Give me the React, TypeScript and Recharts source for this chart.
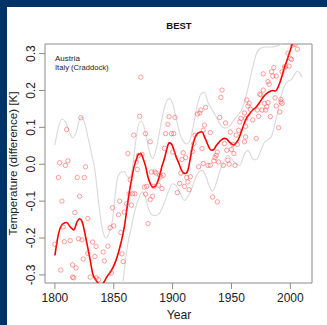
import { ComposedChart, Line, Scatter, XAxis, YAxis, ReferenceArea } from "recharts";

// Axis ranges (R style: data range 1800–2010 plus 4% padding)
const X_DOMAIN: [number, number] = [1791.6, 2018.4];
const Y_DOMAIN: [number, number] = [-0.322, 0.326];
const xTicks = [1800, 1850, 1900, 1950, 2000];
const yTicks = [-0.3, -0.2, -0.1, 0.0, 0.1, 0.2, 0.3];

// smoothed fit (red)
const trendLine: [number, number][] = [
  [1800, -0.247], [1803, -0.19], [1807, -0.161], [1810, -0.158], [1813, -0.17],
  [1816, -0.178], [1819, -0.155], [1821, -0.148], [1823, -0.155], [1825, -0.18],
  [1827, -0.211], [1830, -0.26], [1832, -0.295], [1835, -0.315], [1838, -0.325],
  [1840, -0.326], [1842, -0.318], [1844, -0.306], [1848, -0.288], [1852, -0.26],
  [1856, -0.215], [1859, -0.17], [1861, -0.125], [1863, -0.08], [1865, -0.043],
  [1867, -0.01], [1869, 0.011], [1871, 0.027], [1873, 0.029], [1875, 0.015],
  [1877, -0.005], [1879, -0.034], [1881, -0.052], [1883, -0.062], [1885, -0.06],
  [1887, -0.05], [1889, -0.03], [1891, -0.005], [1893, 0.015], [1895, 0.04],
  [1897, 0.058], [1899, 0.055], [1901, 0.04], [1903, 0.02], [1905, 0.005],
  [1907, -0.012], [1909, -0.023], [1911, -0.025], [1913, -0.016], [1915, 0.015],
  [1917, 0.05], [1919, 0.072], [1921, 0.083], [1923, 0.087], [1925, 0.088],
  [1927, 0.075], [1929, 0.06], [1931, 0.045], [1933, 0.038], [1935, 0.04],
  [1937, 0.05], [1939, 0.058], [1941, 0.065], [1944, 0.07], [1946, 0.068],
  [1948, 0.061], [1950, 0.055], [1952, 0.052], [1954, 0.058], [1956, 0.068],
  [1958, 0.085], [1960, 0.103], [1962, 0.12], [1965, 0.135], [1968, 0.147],
  [1971, 0.155], [1974, 0.168], [1977, 0.182], [1980, 0.192], [1983, 0.198],
  [1985, 0.2], [1987, 0.198], [1989, 0.205], [1991, 0.22], [1993, 0.24],
  [1995, 0.262], [1997, 0.28], [1999, 0.3], [2001, 0.32], [2003, 0.34],
  [2005, 0.36], [2007, 0.38], [2010, 0.41],
];

// confidence band, upper edge (grey)
const upperBand: [number, number][] = [
  [1800, 0.052], [1803, 0.1], [1806, 0.122], [1809, 0.115], [1812, 0.09],
  [1815, 0.072], [1818, 0.085], [1821, 0.122], [1823, 0.127], [1825, 0.115],
  [1828, 0.075], [1831, 0.03], [1834, -0.016], [1837, -0.1], [1840, -0.17],
  [1843, -0.2], [1845, -0.195], [1847, -0.175], [1849, -0.15], [1851, -0.09],
  [1853, -0.04], [1856, -0.022], [1859, -0.02], [1862, -0.035], [1864, -0.035],
  [1866, -0.005], [1869, 0.07], [1872, 0.115], [1874, 0.115], [1877, 0.085],
  [1880, 0.038], [1883, 0.015], [1886, 0.04], [1889, 0.09], [1892, 0.14],
  [1895, 0.172], [1897, 0.178], [1900, 0.165], [1903, 0.125], [1906, 0.085],
  [1909, 0.062], [1912, 0.055], [1915, 0.068], [1918, 0.11], [1921, 0.16],
  [1924, 0.19], [1927, 0.195], [1930, 0.168], [1933, 0.15], [1936, 0.135],
  [1940, 0.11], [1944, 0.098], [1948, 0.102], [1952, 0.12], [1956, 0.135],
  [1959, 0.15], [1962, 0.18], [1965, 0.22], [1968, 0.262], [1971, 0.298],
  [1974, 0.313], [1978, 0.318], [1984, 0.318], [1990, 0.322], [1995, 0.33],
  [2000, 0.36], [2005, 0.4], [2010, 0.44],
];

// confidence band, lower edge (grey) - below the frame before ~1858
const lowerBand: [number, number][] = [
  [1800, -0.55], [1810, -0.46], [1820, -0.45], [1830, -0.58], [1840, -0.62],
  [1848, -0.55], [1853, -0.45], [1856, -0.37], [1858, -0.315], [1860, -0.26],
  [1862, -0.215], [1865, -0.17], [1868, -0.125], [1871, -0.095], [1874, -0.075],
  [1877, -0.09], [1880, -0.125], [1883, -0.138], [1886, -0.139], [1889, -0.132],
  [1892, -0.112], [1896, -0.078], [1900, -0.053], [1903, -0.058], [1906, -0.075],
  [1910, -0.098], [1913, -0.088], [1916, -0.068], [1919, -0.04], [1922, -0.022],
  [1925, -0.016], [1928, -0.03], [1931, -0.058], [1934, -0.073], [1937, -0.052],
  [1940, -0.02], [1943, 0.004], [1947, 0.024], [1950, 0.015], [1953, 0.004],
  [1957, -0.003], [1961, 0.028], [1964, 0.037], [1968, 0.015], [1971, 0.012],
  [1975, 0.038], [1978, 0.06], [1981, 0.066], [1984, 0.076], [1986, 0.098],
  [1989, 0.138], [1992, 0.182], [1995, 0.213], [1998, 0.225], [2001, 0.23],
  [2004, 0.245], [2006, 0.252], [2008, 0.247], [2010, 0.236],
];

// yearly anomalies (open circles)
const observations: [number, number][] = [
  [1800, -0.217], [1803, -0.036], [1804, 0.004], [1805, -0.287], [1806, -0.1],
  [1807, -0.17], [1808, -0.21], [1809, -0.003], [1810, 0.094], [1811, 0.009],
  [1813, -0.207], [1815, -0.273], [1815, -0.306], [1816, -0.308], [1817, -0.131],
  [1818, -0.281], [1819, -0.036], [1820, -0.202], [1821, -0.087], [1822, 0.126],
  [1823, -0.205], [1824, -0.257], [1825, -0.036], [1826, -0.007], [1828, -0.242],
  [1828, -0.147], [1830, -0.306], [1832, -0.211], [1834, -0.25], [1835, -0.223],
  [1835, -0.308], [1837, -0.313], [1841, -0.238], [1842, -0.262], [1845, -0.222],
  [1847, -0.172], [1848, -0.295], [1849, -0.118], [1850, -0.167], [1854, -0.137],
  [1855, -0.1], [1856, -0.185], [1857, -0.243], [1858, -0.264], [1859, -0.13],
  [1861, -0.107], [1862, 0.029], [1863, -0.08], [1864, -0.042], [1865, -0.111],
  [1866, -0.08], [1867, 0.079], [1868, -0.08], [1869, 0.006], [1870, -0.014],
  [1871, 0.024], [1872, 0.13], [1873, 0.236], [1874, 0.027], [1876, -0.062],
  [1877, 0.083], [1877, -0.081], [1878, -0.06], [1879, -0.161], [1881, 0.061],
  [1881, -0.096], [1882, -0.021], [1883, -0.087], [1884, -0.06], [1885, -0.021],
  [1886, -0.024], [1888, -0.057], [1889, -0.03], [1890, -0.034], [1891, -0.066],
  [1892, -0.03], [1893, 0.043], [1894, 0.083], [1896, 0.108], [1897, 0.129],
  [1899, 0.083], [1900, 0.033], [1901, 0.083], [1902, 0.127], [1904, -0.077],
  [1906, -0.052], [1907, -0.024], [1908, 0.013], [1909, 0.031], [1910, -0.06],
  [1911, 0.018], [1912, -0.036], [1913, -0.048], [1914, -0.069], [1915, -0.034],
  [1917, 0.035], [1918, 0.056], [1919, 0.079], [1921, 0.136], [1922, -0.007],
  [1923, 0.139], [1924, 0.147], [1925, 0.043], [1926, 0.092], [1926, 0.002],
  [1927, 0.106], [1928, 0.154], [1930, -0.003], [1932, 0.086], [1932, -0.003],
  [1934, -0.089], [1935, 0.009], [1936, 0.018], [1937, 0.024], [1938, 0.033],
  [1938, -0.102], [1939, 0.006], [1940, 0.127], [1941, 0.181], [1942, 0.201],
  [1943, -0.003], [1944, 0.056], [1945, 0.112], [1946, 0.038], [1947, 0.011],
  [1948, 0.0], [1949, 0.087], [1950, 0.04], [1951, 0.054], [1952, 0.029],
  [1953, -0.003], [1954, 0.079], [1955, 0.054], [1956, 0.092], [1957, 0.115],
  [1958, 0.124], [1961, 0.061], [1961, 0.139], [1962, 0.124], [1962, 0.103],
  [1962, 0.074], [1963, 0.174], [1964, 0.158], [1965, 0.165], [1966, 0.149],
  [1968, 0.12], [1971, 0.07], [1972, 0.147], [1973, 0.13], [1974, 0.19],
  [1975, 0.188], [1976, 0.147], [1977, 0.245], [1977, 0.201], [1978, 0.165],
  [1979, 0.147], [1980, 0.156], [1981, 0.224], [1981, 0.167], [1982, 0.217],
  [1983, 0.129], [1984, 0.251], [1985, 0.239], [1986, 0.262], [1987, 0.18],
  [1988, 0.158], [1988, 0.239], [1990, 0.099], [1991, 0.142], [1992, 0.169],
  [1992, 0.176], [1993, 0.165], [1993, 0.251], [1995, 0.264], [1996, 0.264],
  [1998, 0.301], [1999, 0.266], [2000, 0.287], [2001, 0.284], [2002, 0.323],
  [2004, 0.325], [2006, 0.312],
];

const toPoints = (pairs: [number, number][]) => pairs.map(([x, y]) => ({ x, y }));

const FONT = "'Liberation Sans', Arial, Helvetica, sans-serif";
const NAVY = "#023366";
const FRAME = "#8c8c8c";

function YTick(props: any) {
  const { x, y, payload } = props;
  return (
    <text
      x={x}
      y={y}
      transform={`rotate(-90, ${x}, ${y})`}
      textAnchor="middle"
      fontSize={12}
      fontFamily={FONT}
      fill="#222"
    >
      {Number(payload.value).toFixed(1)}
    </text>
  );
}

function XTick(props: any) {
  const { x, y, payload } = props;
  return (
    <text x={x} y={y} dy={9.5} textAnchor="middle" fontSize={12} fontFamily={FONT} fill="#222">
      {payload.value}
    </text>
  );
}

function OpenCircle(props: any) {
  const { cx, cy } = props;
  if (cx == null || cy == null) return null;
  return <circle cx={cx} cy={cy} r={2.2} fill="none" stroke="#ff4d4d" strokeOpacity={0.6} strokeWidth={0.9} />;
}

export default function App() {
  return (
    <div style={{ position: "absolute", left: 0, top: 0, width: 327, height: 325, background: NAVY }}>
      <div style={{ position: "absolute", left: 7, top: 7, width: 320, height: 318, background: "#fff" }} />
      <div style={{ position: "absolute", left: 0, top: 0 }}>
        <ComposedChart width={327} height={325} margin={{ top: 44, right: 15, bottom: 12, left: 15 }}>
          <XAxis
            type="number"
            dataKey="x"
            domain={X_DOMAIN}
            ticks={xTicks}
            allowDataOverflow
            axisLine={false}
            tickLine={{ stroke: FRAME }}
            tickSize={6}
            tickMargin={3}
            height={30}
            tick={<XTick />}
          />
          <YAxis
            type="number"
            dataKey="y"
            domain={Y_DOMAIN}
            ticks={yTicks}
            allowDataOverflow
            axisLine={false}
            tickLine={{ stroke: FRAME }}
            tickSize={6}
            tickMargin={4}
            width={30}
            tick={<YTick />}
          />
          <Line
            data={toPoints(upperBand)}
            dataKey="y"
            type="monotone"
            stroke="#d9d9d9"
            strokeWidth={1.1}
            dot={false}
            activeDot={false}
            isAnimationActive={false}
          />
          <Line
            data={toPoints(lowerBand)}
            dataKey="y"
            type="monotone"
            stroke="#d9d9d9"
            strokeWidth={1.1}
            dot={false}
            activeDot={false}
            isAnimationActive={false}
          />
          <Scatter
            data={toPoints(observations)}
            dataKey="y"
            shape={<OpenCircle />}
            isAnimationActive={false}
          />
          <Line
            data={toPoints(trendLine)}
            dataKey="y"
            type="monotone"
            stroke="#ff0000"
            strokeWidth={1.6}
            dot={false}
            activeDot={false}
            isAnimationActive={false}
          />
          <ReferenceArea
            x1={X_DOMAIN[0]}
            x2={X_DOMAIN[1]}
            y1={Y_DOMAIN[0]}
            y2={Y_DOMAIN[1]}
            fill="none"
            stroke={FRAME}
            strokeWidth={1}
            ifOverflow="visible"
          />
        </ComposedChart>
      </div>
      <svg width={327} height={325} style={{ position: "absolute", left: 0, top: 0, pointerEvents: "none" }}>
        <text x={179} y={29.3} textAnchor="middle" fontSize={9.5} fontWeight="bold" fontFamily={FONT} fill="#111">
          BEST
        </text>
        <text x={55} y={61} fontSize={8} fontFamily={FONT} fill="#222">
          Austria
        </text>
        <text x={55} y={69.5} fontSize={7.6} fontFamily={FONT} fill="#222">
          Italy (Craddock)
        </text>
        <text x={179} y={319} textAnchor="middle" fontSize={12.2} fontFamily={FONT} fill="#222">
          Year
        </text>
        <text
          x={17}
          y={163.5}
          transform="rotate(-90, 17, 163.5)"
          textAnchor="middle"
          fontSize={11.6}
          fontFamily={FONT}
          fill="#222"
        >
          Temperature (difference) [K]
        </text>
      </svg>
    </div>
  );
}
